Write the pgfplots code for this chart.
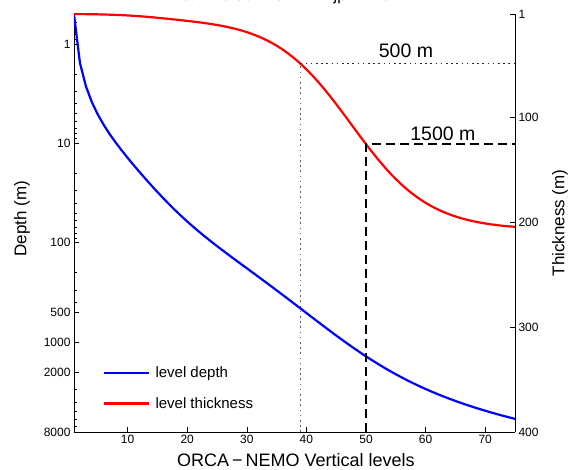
\documentclass[border=0pt]{standalone}
\usepackage{fontspec}
\setmainfont{Liberation Sans}
\usepackage{pgfplots}
\pgfplotsset{compat=1.18}

% ORCA75 level depths (m)
\pgfplotstableread{
k  dep
1  0.506
2  1.556
3  2.668
4  3.856
5  5.140
6  6.543
7  8.093
8  9.823
9  11.77
10 13.99
11 16.53
12 19.43
13 22.76
14 26.56
15 30.87
16 35.74
17 41.18
18 47.21
19 53.85
20 61.11
21 69.02
22 77.61
23 86.93
24 97.04
25 108.0
26 120.0
27 133.1
28 147.4
29 163.2
30 180.5
31 199.8
32 221.1
33 244.9
34 271.4
35 300.9
36 333.9
37 370.7
38 411.8
39 457.6
40 508.6
41 565.3
42 628.0
43 697.3
44 773.4
45 856.7
46 947.4
47 1045.9
48 1152.0
49 1265.9
50 1387.4
51 1516.4
52 1652.6
53 1795.7
54 1945.3
55 2101.0
56 2262.4
57 2429.0
58 2600.4
59 2776.0
60 2955.6
61 3138.6
62 3324.6
63 3513.4
64 3704.7
65 3898.0
66 4093.2
67 4290.0
68 4488.2
69 4687.6
70 4888.1
71 5089.5
72 5291.7
73 5494.6
74 5698.1
75 5902.1
}\depth

% level thickness (m)
\pgfplotstableread{
k  thk
1  1.02
2  1.08
3  1.15
4  1.24
5  1.34
6  1.48
7  1.64
8  1.84
9  2.08
10 2.38
11 2.72
12 3.12
13 3.56
14 4.06
15 4.59
16 5.15
17 5.74
18 6.34
19 6.95
20 7.59
21 8.25
22 8.95
23 9.72
24 10.55
25 11.48
26 12.52
27 13.70
28 15.04
29 16.57
30 18.31
31 20.30
32 22.55
33 25.11
34 28.00
35 31.25
36 34.90
37 38.97
38 43.47
39 48.42
40 53.83
41 59.69
42 65.98
43 72.67
44 79.71
45 87.04
46 94.59
47 102.27
48 110.00
49 117.69
50 125.25
51 132.60
52 139.65
53 146.36
54 152.68
55 158.56
56 164.00
57 168.98
58 173.51
59 177.59
60 181.26
61 184.54
62 187.44
63 190.01
64 192.27
65 194.25
66 195.99
67 197.50
68 198.81
69 199.96
70 200.95
71 201.81
72 202.55
73 203.19
74 203.74
75 204.10
}\thick

\begin{document}
\begin{tikzpicture}
\useasboundingbox (-74pt,-38pt) rectangle (494pt,432pt);
\pgfplotsset{
  every axis/.append style={
    scale only axis, width=441pt, height=418pt,
    xmin=1, xmax=75,
    tick align=inside,
    major tick length=5pt, minor tick length=3pt,
    axis line style={line width=0.8pt},
    every tick/.style={black, line width=0.6pt},
    tick label style={font=\fontsize{12}{14}\selectfont},
    /pgf/number format/assume math mode=true,
    label style={font=\fontsize{17}{19}\selectfont},
  },
}
\begin{axis}[
    ymode=log, y dir=reverse,
    ymin=0.5, ymax=8000,
    axis x line*=bottom, axis y line*=left,
    xtick={10,20,...,70},
    ytick={1,10,100,500,1000,2000,8000},
    yticklabels={1,10,100,500,1000,2000,8000},
    minor ytick={0.6,0.7,0.8,0.9,2,3,4,5,6,7,8,9,20,30,40,50,60,70,80,90,200,300,400,3000,4000,5000,6000,7000},
    xlabel={ORCA\,−\,NEMO Vertical levels},
    ylabel={Depth (m)},
    xlabel style={at={(axis description cs:0.503,-0.066)}, anchor=center, font=\fontsize{18}{20}\selectfont},
    ylabel style={at={(axis description cs:-0.118,0.51)}, anchor=center},
    title={Lat = 45.061 Lon = −7 jpk = 75},
    title style={at={(axis description cs:0.47,1)}, anchor=base, yshift=7pt, font=\fontsize{16}{18}\selectfont},
]
\addplot[blue, line width=2.2pt] table[x=k, y=dep] {\depth};
\end{axis}
\begin{axis}[
    y dir=reverse,
    ymin=1, ymax=400,
    axis x line=none, axis y line*=right,
    ytick={1,100,200,300,400},
    minor y tick num=8,
    ylabel={Thickness (m)},
    ylabel style={at={(axis description cs:1.102,0.5)}, anchor=center, rotate=0},
    legend cell align=left,
    legend image code/.code={\draw[line width=2.2pt,#1] (0pt,0pt) -- (45pt,0pt);},
    legend style={draw=none, fill=none, at={(axis description cs:0.066,0.161)},
      anchor=north west, inner xsep=0pt, inner ysep=0pt,
      font=\fontsize{15}{17}\selectfont, row sep=14pt,
      nodes={inner xsep=5pt}},
]
\addlegendimage{blue, line width=2.2pt}
\addlegendentry{level depth}
\addplot[red, line width=2.2pt] table[x=k, y=thk] {\thick};
\addlegendentry{level thickness}
\addplot[black!65, line width=1.6pt, dash pattern=on 1.6pt off 3.6pt, forget plot] coordinates {(39,400) (39,48.4)};
\addplot[black!85, line width=1.6pt, dash pattern=on 1.6pt off 3.6pt, forget plot] coordinates {(39,48.4) (75,48.4)};
\addplot[black, line width=2pt, dash pattern=on 9pt off 5pt, forget plot] coordinates {(50,400) (50,125.3) (75,125.3)};
\node[anchor=base, font=\fontsize{19.5}{21}\selectfont] at (axis cs:56.7,43) {500 m};
\node[anchor=base, font=\fontsize{19.5}{21}\selectfont] at (axis cs:62.9,121.3) {1500 m};
\end{axis}
\end{tikzpicture}
\end{document}
